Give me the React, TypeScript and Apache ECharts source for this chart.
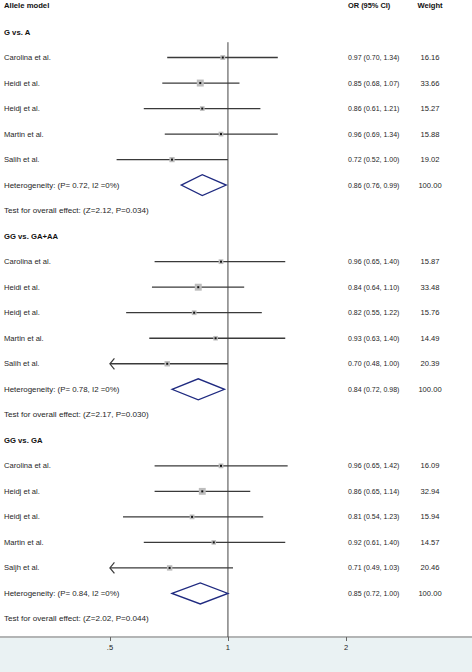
import React, { useEffect, useRef } from "react";
import * as echarts from "echarts";

// ---------- data ----------
const groupTitles = ["G vs. A", "GG vs. GA+AA", "GG vs. GA"];
const studyNames = [
  ["Carolina et al.", "Heidi et al.", "Heidj et al.", "Martin et al.", "Salih et al."],
  ["Carolina et al.", "Heidi et al.", "Heidj et al.", "Martin et al.", "Salih et al."],
  ["Carolina et al.", "Heidj et al.", "Heidj et al.", "Martin et al.", "Saljh et al."],
];
const orValues = [
  [0.97, 0.85, 0.86, 0.96, 0.72],
  [0.96, 0.84, 0.82, 0.93, 0.7],
  [0.96, 0.86, 0.81, 0.92, 0.71],
];
const lowerCI = [
  [0.7, 0.68, 0.61, 0.69, 0.52],
  [0.65, 0.64, 0.55, 0.63, 0.48],
  [0.65, 0.65, 0.54, 0.61, 0.49],
];
const upperCI = [
  [1.34, 1.07, 1.21, 1.34, 1.0],
  [1.4, 1.1, 1.22, 1.4, 1.0],
  [1.42, 1.14, 1.23, 1.4, 1.03],
];
const weights = [
  [16.16, 33.66, 15.27, 15.88, 19.02],
  [15.87, 33.48, 15.76, 14.49, 20.39],
  [16.09, 32.94, 15.94, 14.57, 20.46],
];
const pooledOR = [0.86, 0.84, 0.85];
const pooledLower = [0.76, 0.72, 0.72];
const pooledUpper = [0.99, 0.98, 1.0];
const pooledWeight = ["100.00", "100.00", "100.00"];
const heterogeneityP = ["0.72", "0.78", "0.84"];
const heterogeneityI2 = ["0%", "0%", "0%"];
const overallZ = ["2.12", "2.17", "2.02"];
const overallP = ["0.034", "0.030", "0.044"];
const headerLabels = ["Allele model", "OR (95% CI)", "Weight"];
const xTickValues = [0.5, 1, 2];
const xTickLabels = [".5", "1", "2"];
const plotMin = 0.5; // CIs below this are truncated with an arrow

// ---------- rows ----------
type Row = {
  kind: "header" | "group" | "study" | "pooled" | "test";
  idx: number;
  g: number;
  s: number;
};
const rows: Row[] = [];
rows.push({ kind: "header", idx: -1.05, g: 0, s: 0 });
let rIdx = 0;
groupTitles.forEach((_, g) => {
  rows.push({ kind: "group", idx: rIdx++, g, s: 0 });
  studyNames[g].forEach((__, s) => rows.push({ kind: "study", idx: rIdx++, g, s }));
  rows.push({ kind: "pooled", idx: rIdx++, g, s: 0 });
  rows.push({ kind: "test", idx: rIdx++, g, s: 0 });
});

const fmt = (v: number) => v.toFixed(2);
const FONT = "'Liberation Sans', Arial, sans-serif";
const TEXT_COLOR = "#262626";

function txt(x: number, y: number, text: string, opts: any = {}) {
  return {
    type: "text",
    x,
    y,
    style: {
      text,
      fill: opts.fill || TEXT_COLOR,
      fontSize: opts.fontSize || 7.9,
      fontFamily: FONT,
      fontWeight: opts.bold ? "bold" : "normal",
      align: opts.align || "left",
      verticalAlign: "middle",
    },
  };
}

export default function App() {
  const ref = useRef<HTMLDivElement>(null);

  useEffect(() => {
    if (!ref.current) return;
    const chart = echarts.init(ref.current, null, { renderer: "svg" });

    const renderRow = (params: any, api: any) => {
      const row = rows[params.dataIndex];
      const y = api.coord([1, row.idx])[1];
      const cx = (v: number) => api.coord([v, row.idx])[0];
      const children: any[] = [];
      const colLabel = 4;
      const colOR = 348;
      const colW = 430;
      if (row.kind === "header") {
        children.push(txt(colLabel, y, headerLabels[0], { bold: true, fill: "#111", fontSize: 7.7 }));
        children.push(txt(colOR, y, headerLabels[1], { bold: true, fill: "#111", fontSize: 7.4 }));
        children.push(txt(colW, y, headerLabels[2], { bold: true, fill: "#111", align: "center", fontSize: 7.6 }));
      } else if (row.kind === "group") {
        children.push(txt(colLabel, y, groupTitles[row.g], { bold: true, fill: "#111", fontSize: 7.7 }));
      } else if (row.kind === "study") {
        const o = orValues[row.g][row.s];
        const lo = lowerCI[row.g][row.s];
        const hi = upperCI[row.g][row.s];
        const w = weights[row.g][row.s];
        const xl = cx(Math.max(lo, plotMin));
        const xh = cx(hi);
        const xp = cx(o);
        children.push({
          type: "line",
          shape: { x1: xl, y1: y, x2: xh, y2: y },
          style: { stroke: "#3a3a3a", lineWidth: 1.3 },
        });
        if (lo < plotMin) {
          children.push({
            type: "polyline",
            shape: { points: [[xl + 4.5, y - 5.5], [xl, y], [xl + 4.5, y + 5.5]] },
            style: { stroke: "#3a3a3a", lineWidth: 1.2, fill: "none" },
          });
        }
        const sz = 1.2 * Math.sqrt(w);
        children.push({
          type: "rect",
          shape: { x: xp - sz / 2, y: y - sz / 2, width: sz, height: sz },
          style: { fill: "#bdbdbd" },
        });
        children.push({
          type: "rect",
          shape: { x: xp - 1, y: y - 1, width: 2, height: 2 },
          style: { fill: "#111" },
        });
        children.push(txt(colLabel, y, studyNames[row.g][row.s], { fontSize: 7.6 }));
        children.push(txt(colOR, y, `${fmt(o)} (${fmt(lo)}, ${fmt(hi)})`, { fontSize: 7 }));
        children.push(txt(colW, y, fmt(w), { align: "center", fontSize: 7.6 }));
      } else if (row.kind === "pooled") {
        const xl = cx(pooledLower[row.g]);
        const xh = cx(pooledUpper[row.g]);
        const xp = cx(pooledOR[row.g]);
        const hh = 10.5;
        children.push({
          type: "polygon",
          shape: { points: [[xl, y], [xp, y - hh], [xh, y], [xp, y + hh]] },
          style: { fill: "#fff", stroke: "#1f2a80", lineWidth: 1.3 },
        });
        children.push(
          txt(colLabel, y, `Heterogeneity: (P= ${heterogeneityP[row.g]}, I2 =${heterogeneityI2[row.g]})`)
        );
        children.push(
          txt(colOR, y, `${fmt(pooledOR[row.g])} (${fmt(pooledLower[row.g])}, ${fmt(pooledUpper[row.g])})`, {
            fontSize: 7,
          })
        );
        children.push(txt(colW, y, pooledWeight[row.g], { align: "center", fontSize: 7.6 }));
      } else if (row.kind === "test") {
        children.push(
          txt(colLabel, y, `Test for overall effect: (Z=${overallZ[row.g]}, P=${overallP[row.g]})`, {
            fontSize: 8.1,
          })
        );
      }
      return { type: "group", children };
    };

    const renderRefLine = (params: any, api: any) => {
      const p1 = api.coord([1, 0.4]);
      const p2 = api.coord([1, 23.707]);
      return {
        type: "line",
        shape: { x1: p1[0], y1: p1[1], x2: p2[0], y2: p2[1] },
        style: { stroke: "#444", lineWidth: 1 },
      };
    };

    chart.setOption({
      animation: false,
      backgroundColor: "transparent",
      graphic: [
        {
          type: "rect",
          z: -10,
          shape: { x: 0, y: 636, width: 472, height: 36 },
          style: { fill: "#eaf2f3" },
          silent: true,
        },
      ],
      grid: { left: 0, right: 0, top: 3.93, bottom: 35, containLabel: false },
      xAxis: {
        type: "log",
        logBase: 2,
        min: 0.2622,
        max: 4.192,
        splitLine: { show: false },
        axisLine: { show: true, onZero: false, lineStyle: { color: "#a0a0a0", width: 1.5 } },
        axisTick: {
          show: true,
          customValues: xTickValues,
          length: 4,
          lineStyle: { color: "#666", width: 1 },
        },
        axisLabel: {
          show: true,
          customValues: xTickValues,
          margin: 6,
          fontSize: 7.5,
          fontFamily: FONT,
          color: "#222",
          formatter: (v: number) => {
            const i = xTickValues.findIndex((t) => Math.abs(t - v) < 1e-6);
            return i >= 0 ? xTickLabels[i] : "";
          },
        },
      },
      yAxis: {
        type: "value",
        inverse: true,
        min: -1.1,
        max: 23.707,
        show: false,
      },
      series: [
        {
          type: "custom",
          renderItem: renderRefLine,
          data: [[1, 0.4]],
          silent: true,
          z: 1,
        },
        {
          type: "custom",
          renderItem: renderRow,
          data: rows.map((r) => [1, r.idx]),
          silent: true,
          clip: false,
          z: 2,
        },
      ],
    });

    return () => chart.dispose();
  }, []);

  return (
    <div
      ref={ref}
      style={{
        position: "fixed",
        left: 0,
        top: 0,
        width: 472,
        height: 672,
        background: "#fff",
      }}
    />
  );
}
